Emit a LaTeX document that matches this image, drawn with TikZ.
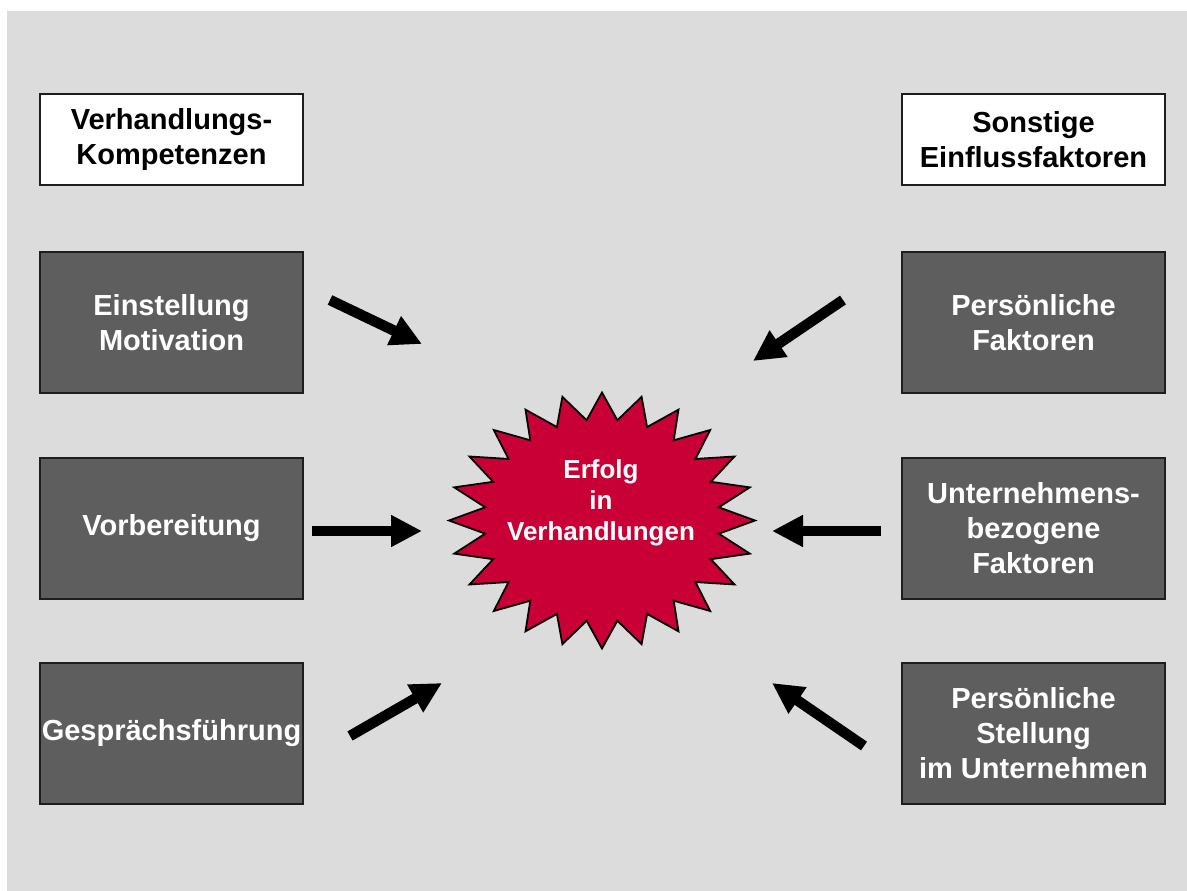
\documentclass[tikz,border=0pt]{standalone}
\usepackage{fontspec}
\setmainfont{Liberation Sans}
\usetikzlibrary{arrows.meta}
\definecolor{bggray}{HTML}{DCDCDC}
\definecolor{boxgray}{HTML}{5E5E5E}
\definecolor{edgegray}{HTML}{1E1E1E}
\definecolor{starred}{HTML}{C80036}
\tikzset{
  headbox/.style={draw=edgegray, line width=2pt, fill=white, minimum width=263pt, minimum height=91pt,
    inner sep=0pt, align=center, text=black, font=\bfseries\fontsize{29}{35}\selectfont},
  darkbox/.style={draw=edgegray, line width=2pt, fill=boxgray, minimum width=263pt, minimum height=141pt,
    inner sep=0pt, align=center, text=white, font=\bfseries\fontsize{29}{35}\selectfont},
  bigarrow/.style={line width=10.5pt, -{Triangle[length=31pt,width=30pt]}, black},
  startext/.style={inner sep=0pt, align=center, text=white, font=\bfseries\fontsize{26}{31}\selectfont}
}
\begin{document}
\begin{tikzpicture}[x=1pt,y=-1pt]
\useasboundingbox (0,0) rectangle (1187,891);
\fill[white] (0,0) rectangle (1187,891);
\fill[bggray] (7,11) rectangle (1187,891);

% header boxes
\node[headbox] (hl) at (171.5,139.5) {Verhandlungs-\\Kompetenzen};
\node[headbox] (hr) at (1033.5,139.5) {Sonstige\\Einflussfaktoren};

% left boxes
\node[darkbox] (l1) at (171.5,322.5) {Einstellung\\Motivation};
\node[darkbox] (l2) at (171.5,528.5) {Vorbereitung};
\node[darkbox] (l3) at (171.5,733.5) {Gesprächsführung};

% right boxes
\node[darkbox] (r1) at (1033.5,322.5) {Persönliche\\Faktoren};
\node[darkbox] (r2) at (1033.5,528.5) {Unternehmens-\\bezogene\\Faktoren};
\node[darkbox] (r3) at (1033.5,733.5) {Persönliche\\Stellung\\im Unternehmen};

% star
\draw[fill=starred, draw=black, line width=1.8pt, line join=miter]
  plot[samples=49, domain=0:48, variable=\k]
  ({602+153*(1-0.23*mod(round(\k),2))*cos(\k*7.5)}, {520.5-128*(1-0.21*mod(round(\k),2))*sin(\k*7.5)}) -- cycle;
\node[startext] (erfolg) at (601,503) {Erfolg\\in\\Verhandlungen};

% arrow end points
\coordinate (a1s) at (330,300);  \coordinate (a1e) at (422,344);
\coordinate (a2s) at (312,531);  \coordinate (a2e) at (422,531);
\coordinate (a3s) at (350,736);  \coordinate (a3e) at (442,683);
\coordinate (a4s) at (843,300);  \coordinate (a4e) at (753,361);
\coordinate (a5s) at (881,531);  \coordinate (a5e) at (772,531);
\coordinate (a6s) at (864,746);  \coordinate (a6e) at (772,683);

\draw[bigarrow] (a1s) -- (a1e);
\draw[bigarrow] (a2s) -- (a2e);
\draw[bigarrow] (a3s) -- (a3e);
\draw[bigarrow] (a4s) -- (a4e);
\draw[bigarrow] (a5s) -- (a5e);
\draw[bigarrow] (a6s) -- (a6e);
\end{tikzpicture}
\end{document}
